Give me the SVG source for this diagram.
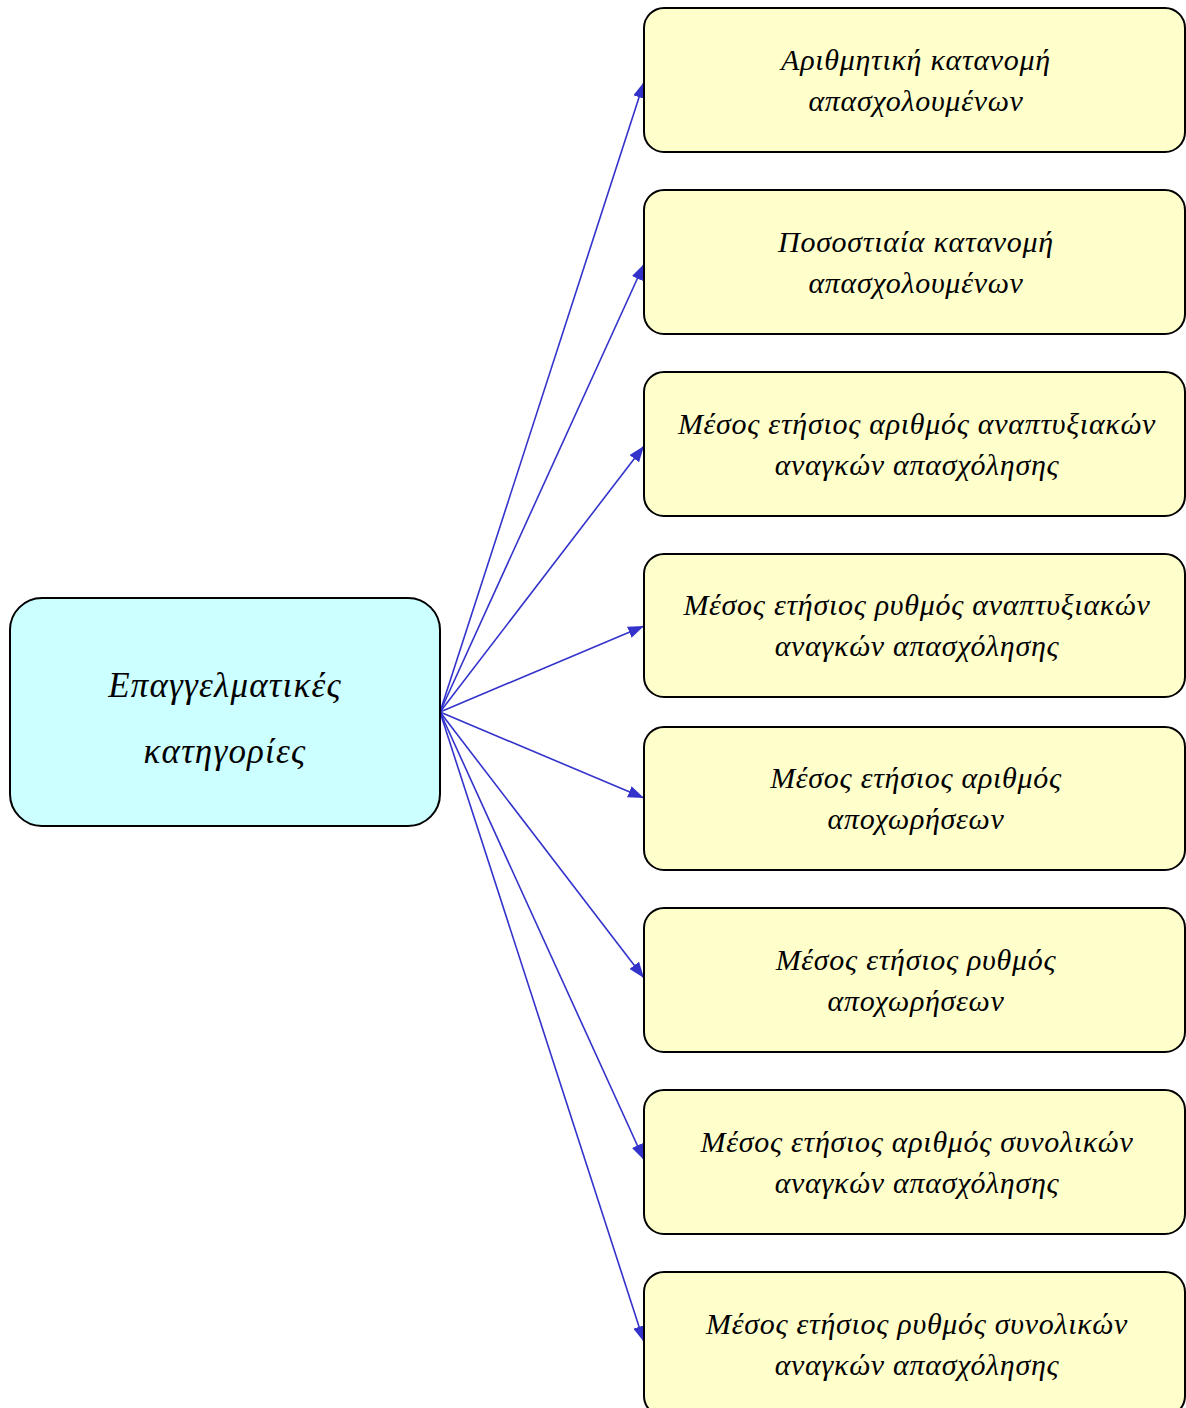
<svg xmlns="http://www.w3.org/2000/svg" width="1186" height="1408" viewBox="0 0 1186 1408">
<style>
.box{fill:#ffffcc;stroke:#000;stroke-width:2}
.root{fill:#ccffff;stroke:#000;stroke-width:2}
.t{font-family:"Liberation Serif","DejaVu Serif",serif;font-style:italic;font-size:30px;letter-spacing:0.7px;fill:#000;text-anchor:middle}
.tr{font-size:35px;letter-spacing:1.2px}
.c{stroke:#3333cc;stroke-width:1.6;fill:none;marker-end:url(#ah)}
</style>
<defs>
<marker id="ah" markerWidth="16" markerHeight="12" refX="16" refY="6" orient="auto" markerUnits="userSpaceOnUse">
<path d="M0,0 L16,6 L0,12 Z" fill="#3333cc"/>
</marker>
</defs>
<rect width="1186" height="1408" fill="#fff"/>
<g id="connectors">
<line class="c" x1="440" y1="712" x2="644" y2="82"/>
<line class="c" x1="440" y1="712" x2="644" y2="264"/>
<line class="c" x1="440" y1="712" x2="644" y2="446"/>
<line class="c" x1="440" y1="712" x2="644" y2="626"/>
<line class="c" x1="440" y1="712" x2="644" y2="798"/>
<line class="c" x1="440" y1="712" x2="644" y2="978"/>
<line class="c" x1="440" y1="712" x2="644" y2="1160"/>
<line class="c" x1="440" y1="712" x2="644" y2="1342"/>
</g>
<g id="root">
<rect class="root" x="10" y="598" width="430" height="228" rx="32"/>
<text class="t tr" x="225" y="697">Επαγγελματικές</text>
<text class="t tr" x="225" y="763">κατηγορίες</text>
</g>
<g id="n1">
<rect class="box" x="644" y="8" width="541" height="144" rx="20"/>
<text class="t" x="916" y="70">Αριθμητική κατανομή</text>
<text class="t" x="916" y="111">απασχολουμένων</text>
</g>
<g id="n2">
<rect class="box" x="644" y="190" width="541" height="144" rx="20"/>
<text class="t" x="916" y="252">Ποσοστιαία κατανομή</text>
<text class="t" x="916" y="293">απασχολουμένων</text>
</g>
<g id="n3">
<rect class="box" x="644" y="372" width="541" height="144" rx="20"/>
<text class="t" x="917" y="434">Μέσος ετήσιος αριθμός αναπτυξιακών</text>
<text class="t" x="917" y="475">αναγκών απασχόλησης</text>
</g>
<g id="n4">
<rect class="box" x="644" y="554" width="541" height="143" rx="20"/>
<text class="t" x="917" y="615">Μέσος ετήσιος ρυθμός αναπτυξιακών</text>
<text class="t" x="917" y="656">αναγκών απασχόλησης</text>
</g>
<g id="n5">
<rect class="box" x="644" y="727" width="541" height="143" rx="20"/>
<text class="t" x="916" y="788">Μέσος ετήσιος αριθμός</text>
<text class="t" x="916" y="829">αποχωρήσεων</text>
</g>
<g id="n6">
<rect class="box" x="644" y="908" width="541" height="144" rx="20"/>
<text class="t" x="916" y="970">Μέσος ετήσιος ρυθμός</text>
<text class="t" x="916" y="1011">αποχωρήσεων</text>
</g>
<g id="n7">
<rect class="box" x="644" y="1090" width="541" height="144" rx="20"/>
<text class="t" x="917" y="1152">Μέσος ετήσιος αριθμός συνολικών</text>
<text class="t" x="917" y="1193">αναγκών απασχόλησης</text>
</g>
<g id="n8">
<rect class="box" x="644" y="1272" width="541" height="144" rx="20"/>
<text class="t" x="917" y="1334">Μέσος ετήσιος ρυθμός συνολικών</text>
<text class="t" x="917" y="1375">αναγκών απασχόλησης</text>
</g>
</svg>
